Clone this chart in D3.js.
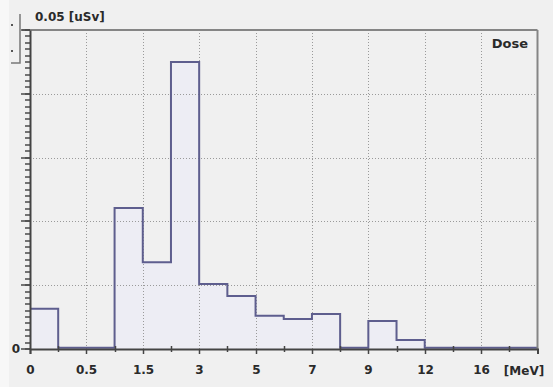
<!DOCTYPE html>
<html>
<head>
<meta charset="utf-8">
<script src="https://cdn.jsdelivr.net/npm/d3@7"></script>
<style>
  html, body { margin: 0; padding: 0; background: #f0f0f0; }
  svg { display: block; }
  text { font-family: "DejaVu Sans", sans-serif; font-weight: bold; fill: #2a2a2a; }
</style>
</head>
<body>
<svg id="chart" width="553" height="387"></svg>
<script>
// Dose per energy bin (uSv), 18 bins on an index axis
const binCount = 18;
const doseValues = [0.0063, 0.0002, 0.0002, 0.0221, 0.0136, 0.0450, 0.0102, 0.0083, 0.0052,
                    0.0047, 0.0055, 0.0002, 0.0044, 0.0014, 0.0002, 0.0002, 0.0002, 0.0002];
// Energy labels at every second bin edge (MeV)
const tickLabels = ["0", "0.5", "1.5", "3", "5", "7", "9", "12", "16"];
const yMax = 0.05;
const yMajorTicks = [0, 0.01, 0.02, 0.03, 0.04, 0.05];
const yMinorTicks = d3.range(0, 51).map(k => k / 1000);

const svg = d3.select("#chart");
const plotLeft = 30, plotRight = 537.5, plotTop = 30, plotBottom = 349;

const x = d3.scaleLinear().domain([0, binCount]).range([plotLeft, plotRight]);
const y = d3.scaleLinear().domain([0, yMax]).range([plotBottom, plotTop]);

// light strip on the far left
svg.append("rect").attr("x", 0).attr("y", 0).attr("width", 9).attr("height", 387).attr("fill", "#f7f7f7");

// step data: one point per bin start plus closing edge
const steps = doseValues.map((v, i) => ({ i, v }));
steps.push({ i: binCount, v: doseValues[binCount - 1] });

// fill under the histogram
svg.append("path")
  .datum(steps)
  .attr("fill", "#ededf4")
  .attr("d", d3.area().curve(d3.curveStepAfter).x(d => x(d.i)).y0(y(0)).y1(d => y(d.v)));

// dotted grid
const grid = svg.append("g").attr("stroke", "#9a9a9a").attr("stroke-width", 1).attr("stroke-dasharray", "1,2");
d3.range(2, binCount, 2).forEach(i => {
  grid.append("line").attr("x1", Math.round(x(i)) + 0.5).attr("x2", Math.round(x(i)) + 0.5)
    .attr("y1", plotTop).attr("y2", plotBottom);
});
yMajorTicks.filter(v => v > 0 && v < yMax).forEach(v => {
  grid.append("line").attr("x1", plotLeft).attr("x2", plotRight)
    .attr("y1", Math.round(y(v)) + 0.5).attr("y2", Math.round(y(v)) + 0.5);
});

// histogram outline
svg.append("path")
  .datum(steps)
  .attr("fill", "none")
  .attr("stroke", "#5e5e8e")
  .attr("stroke-width", 2)
  .attr("d", d3.line().curve(d3.curveStepAfter).x(d => x(d.i)).y(d => y(d.v)));

// frame: top and right borders
svg.append("line").attr("x1", 22).attr("x2", plotRight).attr("y1", plotTop).attr("y2", plotTop)
  .attr("stroke", "#858585").attr("stroke-width", 2);
svg.append("line").attr("x1", plotRight).attr("x2", plotRight).attr("y1", plotTop).attr("y2", plotBottom)
  .attr("stroke", "#858585").attr("stroke-width", 2);

// y axis comb: minor ticks every 0.001, longer ones every 0.01
const comb = svg.append("g").attr("stroke", "#4a4a4a").attr("stroke-width", 1.5);
comb.selectAll("line.minor")
  .data(yMinorTicks)
  .join("line")
  .attr("class", "minor")
  .attr("x1", plotLeft - 5).attr("x2", plotLeft)
  .attr("y1", d => Math.round(y(d)))
  .attr("y2", d => Math.round(y(d)));
comb.selectAll("line.major")
  .data(yMajorTicks)
  .join("line")
  .attr("class", "major")
  .attr("x1", plotLeft - 9).attr("x2", plotLeft)
  .attr("y1", d => Math.round(y(d)))
  .attr("y2", d => Math.round(y(d)));

const yAxis = svg.append("g").attr("transform", `translate(${plotLeft},0)`)
  .call(d3.axisLeft(y).tickValues([0]).tickSize(0).tickPadding(10).tickFormat(d => "0"));
yAxis.select(".domain").attr("stroke", "#444").attr("stroke-width", 2);
yAxis.selectAll("text").style("font-size", "12px").attr("fill", "#2a2a2a");

// x axis: labelled ticks at every second edge, short ticks between
const xMajor = svg.append("g").attr("transform", `translate(0,${plotBottom})`)
  .call(d3.axisBottom(x).tickValues(d3.range(0, binCount, 2)).tickSize(5).tickPadding(11)
    .tickFormat(d => tickLabels[d / 2]));
xMajor.selectAll(".tick").attr("transform", d => `translate(${Math.round(x(d)) + 0.5},0)`);
xMajor.select(".domain").attr("stroke", "#444").attr("stroke-width", 2);
xMajor.selectAll(".tick line").attr("stroke", "#444").attr("stroke-width", 1.5);
xMajor.selectAll("text").style("font-size", "12px").attr("fill", "#2a2a2a");

const xMinor = svg.append("g").attr("transform", `translate(0,${plotBottom})`)
  .call(d3.axisBottom(x).tickValues(d3.range(1, binCount, 2)).tickSizeInner(3).tickSizeOuter(0).tickFormat(""));
xMinor.selectAll(".tick").attr("transform", d => `translate(${Math.round(x(d)) + 0.5},0)`);
xMinor.select(".domain").remove();
xMinor.selectAll(".tick line").attr("y1", -3).attr("stroke", "#444").attr("stroke-width", 1.5);

// unit labels and title
svg.append("text").attr("x", 524).attr("y", 375).attr("text-anchor", "middle")
  .style("font-size", "12px").text("[MeV]");
svg.append("text").attr("x", 35).attr("y", 21).style("font-size", "12px").text("0.05 [uSv]");
svg.append("text").attr("x", 528).attr("y", 48).attr("text-anchor", "end")
  .style("font-size", "13px").text("Dose");

// small scale bracket at upper left
svg.append("path").attr("d", "M20,14 V63 H11").attr("fill", "none").attr("stroke", "#777").attr("stroke-width", 1.5);
svg.append("rect").attr("x", 11).attr("y", 24).attr("width", 2).attr("height", 2).attr("fill", "#555");
svg.append("rect").attr("x", 11).attr("y", 50).attr("width", 2).attr("height", 2).attr("fill", "#555");
</script>
</body>
</html>
